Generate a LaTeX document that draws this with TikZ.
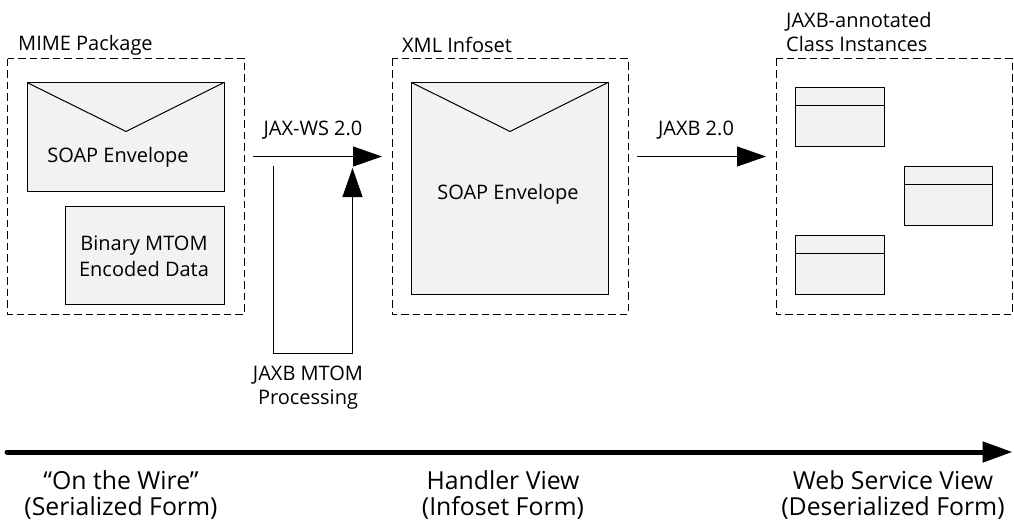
\documentclass[tikz,border=0pt]{standalone}
\usepackage{fontspec}
\setmainfont{Open Sans}
\usetikzlibrary{arrows.meta}

\tikzset{
  groupbox/.style={draw,dashed,dash pattern=on 7.5pt off 4pt,line width=0.9pt},
  partbox/.style={draw,line width=1pt,fill=black!5},
  flow/.style={line width=1pt,-{Triangle[length=29pt,width=20pt]}},
  caption/.style={font=\fontsize{20}{24}\selectfont,align=center,inner sep=0pt},
  viewtext/.style={font=\fontsize{24.8}{26}\selectfont,align=center,inner sep=0pt}
}

\begin{document}
\begin{tikzpicture}[x=1pt,y=-1pt]
\useasboundingbox (0,0) rectangle (1014,522);

% dashed groups
\draw[groupbox] (7.5,58.5) rectangle (244,314);
\draw[groupbox] (392,58.5) rectangle (628,314);
\draw[groupbox] (776,58.5) rectangle (1012.5,314);

\node[caption,anchor=west] (mimelabel) at (18,45) {MIME Package};
\node[caption,anchor=west] (xmllabel) at (402,45) {XML Infoset};
\node[caption,align=left,anchor=west] (jaxblabel) at (786,31.5) {JAXB-annotated\\Class Instances};

% envelopes
\draw[partbox] (27,82.5) rectangle (224,191);
\draw[line width=1pt] (27,82.5) -- (126,131.5) -- (224,82.5);
\node[caption] (soapa) at (118,157) {SOAP Envelope};
\draw[partbox] (65,206) rectangle (224,304);
\node[caption,font=\fontsize{20}{26}\selectfont] (binary) at (144,256) {Binary MTOM\\Encoded Data};

\draw[partbox] (411.5,82.5) rectangle (608,294);
\draw[line width=1pt] (411.5,82.5) -- (510,131.5) -- (608,82.5);
\node[caption] (soapb) at (508,194) {SOAP Envelope};

% class instances
\foreach \x/\y in {795.5/87.5,904/166.5,795.5/235.5} {
  \draw[partbox] (\x,\y) rectangle +(88.5,59);
  \draw[line width=1pt] (\x,\y+18) -- +(88.5,0);
}

% arrows
\coordinate (wsstart) at (253,156.5);
\coordinate (wsend) at (382,156.5);
\coordinate (jaxbstart) at (637,156.5);
\coordinate (jaxbend) at (766,156.5);
\draw[flow] (wsstart) -- (wsend);
\draw[flow] (273.5,166) |- (352.5,353) -- (352.5,168);
\draw[flow] (jaxbstart) -- (jaxbend);

\node[caption] (jaxws) at (313,130) {JAX-WS 2.0};
\node[caption] (jaxb) at (696,130) {JAXB 2.0};
\node[caption] (mtom) at (308,388) {JAXB MTOM\\Processing};

% timeline
\coordinate (linestart) at (7,452);
\coordinate (lineend) at (1012.5,452);
\draw[line width=5pt,line cap=round,-{Triangle[length=30pt,width=20pt]}] (linestart) -- (lineend);
\node[viewtext] (wire) at (121,495) {``On the Wire''\\(Serialized Form)};
\node[viewtext] (handler) at (503,495) {Handler View\\(Infoset Form)};
\node[viewtext] (service) at (893,495) {Web Service View\\(Deserialized Form)};
\end{tikzpicture}
\end{document}
